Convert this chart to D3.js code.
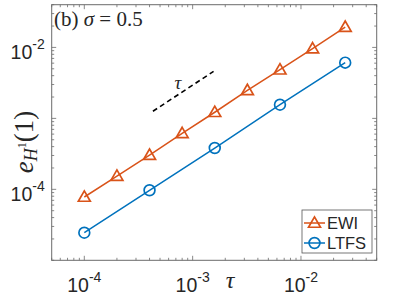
<!DOCTYPE html>
<html>
<head>
<meta charset="utf-8">
<script src="https://cdn.jsdelivr.net/npm/d3@7"></script>
<style>
  body { margin: 0; background: #fff; }
  svg { display: block; }
</style>
</head>
<body>
<svg class="chart" width="395" height="296"></svg>
<script>
// step sizes and errors
var tau = [1e-4, 2e-4, 4e-4, 8e-4, 1.6e-3, 3.2e-3, 6.4e-3, 1.28e-2, 2.56e-2];
var ewi = [7.8e-5, 1.54e-4, 3.04e-4, 6.14e-4, 1.22e-3, 2.48e-3, 4.85e-3, 9.6e-3, 1.93e-2];
var tauLtfs = [1e-4, 4e-4, 1.6e-3, 6.4e-3, 2.56e-2];
var ltfs = [2.45e-5, 9.7e-5, 3.82e-4, 1.56e-3, 6.1e-3];
// order-one reference slope
var refTau = [4.3e-4, 1.56e-3];
var refErr = [1.26e-3, 4.6e-3];

var xTicks = [1e-4, 1e-3, 1e-2];
var xTickLabels = ["-4", "-3", "-2"];
var yTicks = [1e-4, 1e-3, 1e-2];
var yTickLabels = ["-4", "", "-2"];

var svg = d3.select(".chart");
var margin = {top: 4.7, right: 18.3, bottom: 35.7, left: 51.7},
    width = +svg.attr("width") - margin.left - margin.right,
    height = +svg.attr("height") - margin.top - margin.bottom;

var x = d3.scaleLog().domain([5e-5, 5e-2]).range([margin.left, margin.left + width]);
var y = d3.scaleLog().domain([1e-5, 4e-2]).range([margin.top + height, margin.top]);

var axisCol = "#6b6b6b", textCol = "#262626";
var orange = "#D95319", blue = "#0072BD";

// minor ticks 2..9 per decade
function minors(dom) {
  var out = [];
  for (var e = -6; e <= 0; e++) {
    for (var k = 1; k <= 9; k++) {
      var v = k * Math.pow(10, e);
      if (v >= dom[0] * 0.999 && v <= dom[1] * 1.001) out.push(v);
    }
  }
  return out;
}

var g = svg.append("g").attr("class", "ticks").attr("stroke", axisCol).attr("stroke-width", 0.8);
var x0 = margin.left, x1 = margin.left + width, y0 = margin.top + height, y1 = margin.top;

minors(x.domain()).forEach(function(v) {
  var L = xTicks.indexOf(v) >= 0 ? 4.5 : 2.5;
  var px = x(v);
  g.append("line").attr("x1", px).attr("x2", px).attr("y1", y0).attr("y2", y0 - L);
  g.append("line").attr("x1", px).attr("x2", px).attr("y1", y1).attr("y2", y1 + L);
});
minors(y.domain()).forEach(function(v) {
  var L = yTicks.indexOf(v) >= 0 ? 4.5 : 2.5;
  var py = y(v);
  g.append("line").attr("x1", x0).attr("x2", x0 + L).attr("y1", py).attr("y2", py);
  g.append("line").attr("x1", x1).attr("x2", x1 - L).attr("y1", py).attr("y2", py);
});

// box
svg.append("rect")
  .attr("x", x0).attr("y", y1).attr("width", width).attr("height", height)
  .attr("fill", "none").attr("stroke", axisCol).attr("stroke-width", 1);

// tick labels
xTicks.forEach(function(v, i) {
  var t = svg.append("text")
    .attr("x", x(v)).attr("y", y0 + 32)
    .attr("text-anchor", "middle")
    .attr("font-family", "Liberation Sans, Arial, sans-serif")
    .attr("fill", textCol);
  t.append("tspan").attr("font-size", 19.5).text("10");
  t.append("tspan").attr("font-size", 14).attr("dy", -10).text(xTickLabels[i]);
});
yTicks.forEach(function(v, i) {
  if (!yTickLabels[i]) return;
  var t = svg.append("text")
    .attr("x", x0 - 7).attr("y", y(v) + 12)
    .attr("text-anchor", "end")
    .attr("font-family", "Liberation Sans, Arial, sans-serif")
    .attr("fill", textCol);
  t.append("tspan").attr("font-size", 19.5).text("10");
  t.append("tspan").attr("font-size", 14).attr("dy", -10).text(yTickLabels[i]);
});

// axis labels
svg.append("text")
  .attr("x", 230).attr("y", 288)
  .attr("text-anchor", "middle")
  .attr("font-family", "Liberation Serif, serif")
  .attr("font-style", "italic")
  .attr("font-size", 24)
  .attr("fill", textCol)
  .text("τ");

var yl = svg.append("text")
  .attr("transform", "translate(33,142) rotate(-90)")
  .attr("text-anchor", "middle")
  .attr("font-family", "Liberation Serif, serif")
  .attr("fill", textCol);
yl.append("tspan").attr("font-style", "italic").attr("font-size", 27).text("e");
yl.append("tspan").attr("font-style", "italic").attr("font-size", 18).attr("dy", 4).text("H");
yl.append("tspan").attr("font-size", 12).attr("dy", -11).text("1");
yl.append("tspan").attr("font-size", 27).attr("dy", 7).text("(1)");

// panel title
var title = svg.append("text")
  .attr("x", 54).attr("y", 26)
  .attr("font-family", "Liberation Serif, serif")
  .attr("font-size", 21)
  .attr("fill", textCol);
title.append("tspan").text("(b) ");
title.append("tspan").attr("font-style", "italic").text("σ");
title.append("tspan").text(" = 0.5");

// reference slope
var line = d3.line().x(function(d) { return x(d[0]); }).y(function(d) { return y(d[1]); });
svg.append("path")
  .datum(d3.zip(refTau, refErr))
  .attr("d", line)
  .attr("fill", "none").attr("stroke", "#000").attr("stroke-width", 1.6)
  .attr("stroke-dasharray", "5,3.5");
svg.append("text")
  .attr("x", 178).attr("y", 89)
  .attr("text-anchor", "middle")
  .attr("font-family", "Liberation Serif, serif")
  .attr("font-style", "italic")
  .attr("font-size", 19)
  .attr("fill", textCol)
  .text("τ");

var tri = d3.symbol().type(d3.symbolTriangle).size(62);

function series(xs, ys, col, marker) {
  var data = d3.zip(xs, ys);
  svg.append("path").datum(data).attr("d", line)
    .attr("fill", "none").attr("stroke", col).attr("stroke-width", 1.5);
  var m = svg.selectAll(null).data(data).enter();
  if (marker === "tri") {
    m.append("path")
      .attr("transform", function(d) { return "translate(" + x(d[0]) + "," + (y(d[1]) + 0.8) + ")"; })
      .attr("d", tri)
      .attr("fill", "none").attr("stroke", col).attr("stroke-width", 1.7);
  } else {
    m.append("circle")
      .attr("cx", function(d) { return x(d[0]); })
      .attr("cy", function(d) { return y(d[1]); })
      .attr("r", 5.4)
      .attr("fill", "none").attr("stroke", col).attr("stroke-width", 1.7);
  }
}
series(tau, ewi, orange, "tri");
series(tauLtfs, ltfs, blue, "circ");

// legend
var leg = svg.append("g").attr("transform", "translate(302,210)");
leg.append("rect").attr("width", 70).attr("height", 43)
  .attr("fill", "#fff").attr("stroke", "#555").attr("stroke-width", 0.8);
[["EWI", orange, "tri"], ["LTFS", blue, "circ"]].forEach(function(it, i) {
  var cy = 13 + i * 20;
  leg.append("line").attr("x1", 2).attr("x2", 23).attr("y1", cy).attr("y2", cy)
    .attr("stroke", it[1]).attr("stroke-width", 1.5);
  if (it[2] === "tri") {
    leg.append("path").attr("transform", "translate(12.5," + (cy + 0.8) + ")").attr("d", tri)
      .attr("fill", "none").attr("stroke", it[1]).attr("stroke-width", 1.7);
  } else {
    leg.append("circle").attr("cx", 12.5).attr("cy", cy).attr("r", 5.4)
      .attr("fill", "none").attr("stroke", it[1]).attr("stroke-width", 1.7);
  }
  leg.append("text").attr("x", 25).attr("y", cy + 6)
    .attr("font-family", "Liberation Sans, Arial, sans-serif")
    .attr("font-size", 16.5).attr("fill", textCol).text(it[0]);
});
</script>
</body>
</html>
